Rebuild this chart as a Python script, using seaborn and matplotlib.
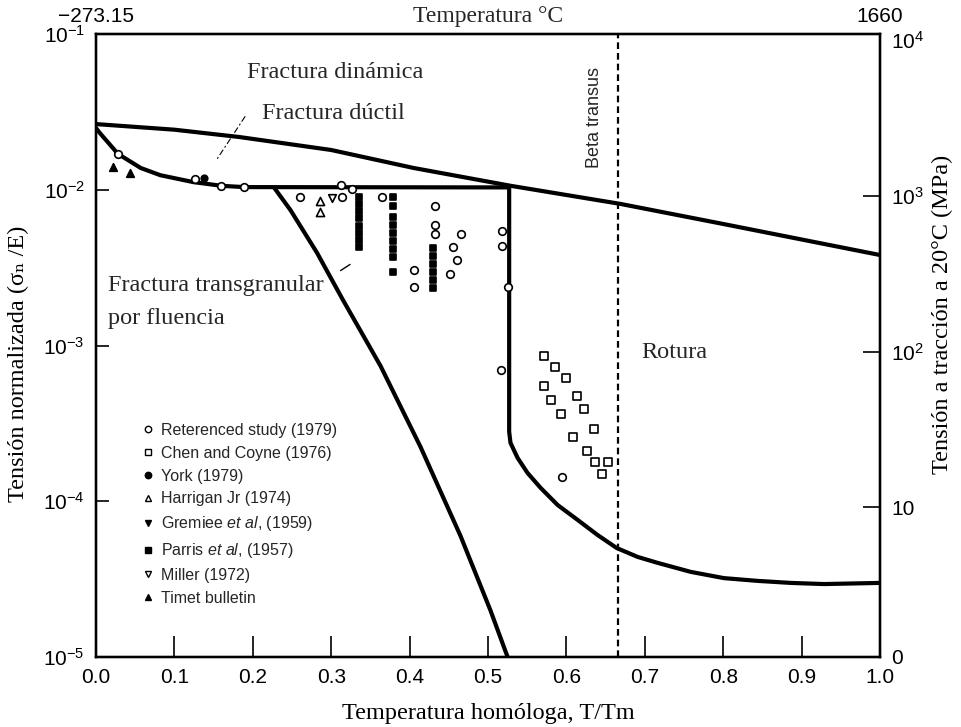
import numpy as np
import matplotlib
matplotlib.use("Agg")
import matplotlib.pyplot as plt
import seaborn as sns
from matplotlib.lines import Line2D
from matplotlib.ticker import NullLocator, FixedLocator

# ---------------------------------------------------------------- data
# Map boundaries (homologous temperature, normalised stress sigma_n/E)
top_x = [0.0, 0.1, 0.183, 0.3, 0.405, 0.529, 0.669, 0.8, 1.0]
top_y = [2.64e-2, 2.43e-2, 2.18e-2, 1.80e-2, 1.38e-2, 1.06e-2, 8.11e-3, 6.03e-3, 3.81e-3]

duct_x = [0.0, 0.005, 0.028, 0.057, 0.082, 0.124, 0.160, 0.189, 0.527, 0.527,
          0.5287, 0.5377, 0.5504, 0.5670, 0.5888, 0.6143, 0.6398, 0.6641,
          0.6909, 0.7165, 0.7586, 0.8008, 0.8442, 0.8863, 0.9285, 1.0]
duct_y = [2.49e-2, 2.31e-2, 1.70e-2, 1.38e-2, 1.24e-2, 1.12e-2, 1.06e-2, 1.04e-2,
          1.035e-2, 2.79e-4, 2.37e-4, 1.90e-4, 1.52e-4, 1.22e-4, 9.46e-5, 7.59e-5,
          6.07e-5, 5.01e-5, 4.39e-5, 4.02e-5, 3.52e-5, 3.21e-5, 3.08e-5, 2.99e-5,
          2.94e-5, 2.99e-5]

creep_x = [0.227, 0.248, 0.282, 0.315, 0.363, 0.414, 0.465, 0.503, 0.525]
creep_y = [1.035e-2, 7.41e-3, 3.93e-3, 1.96e-3, 7.38e-4, 2.23e-4, 5.98e-5, 2.00e-5, 1.0e-5]

beta_transus = 0.666

# Experimental points
ref_x = [0.028, 0.126, 0.160, 0.189, 0.260, 0.312, 0.327, 0.314, 0.365, 0.433,
         0.433, 0.433, 0.465, 0.455, 0.460, 0.451, 0.518, 0.518, 0.406, 0.406,
         0.526, 0.516, 0.594]
ref_y = [1.70e-2, 1.17e-2, 1.06e-2, 1.04e-2, 8.97e-3, 1.07e-2, 1.01e-2, 8.97e-3,
         8.97e-3, 7.87e-3, 5.94e-3, 5.20e-3, 5.20e-3, 4.29e-3, 3.54e-3, 2.88e-3,
         5.43e-3, 4.36e-3, 3.05e-3, 2.38e-3, 2.38e-3, 6.97e-4, 1.43e-4]

chen_x = [0.571, 0.586, 0.600, 0.571, 0.580, 0.614, 0.593, 0.623, 0.635, 0.609,
          0.626, 0.636, 0.653, 0.646]
chen_y = [8.57e-4, 7.28e-4, 6.18e-4, 5.50e-4, 4.47e-4, 4.74e-4, 3.63e-4, 3.91e-4,
          2.91e-4, 2.59e-4, 2.10e-4, 1.79e-4, 1.79e-4, 1.50e-4]

york_x = [0.138]
york_y = [1.19e-2]

harrigan_x = [0.286, 0.286]
harrigan_y = [8.47e-3, 7.19e-3]

gremiee_x = []
gremiee_y = []

parris_x = [0.336] * 8 + [0.379] * 9 + [0.430] * 6
parris_y = [8.98e-3, 8.10e-3, 7.30e-3, 6.59e-3, 5.85e-3, 5.28e-3, 4.76e-3, 4.29e-3,
            8.98e-3, 7.86e-3, 6.68e-3, 5.94e-3, 5.28e-3, 4.69e-3, 4.16e-3, 3.70e-3, 2.96e-3,
            4.23e-3, 3.75e-3, 3.34e-3, 2.96e-3, 2.63e-3, 2.34e-3]

miller_x = [0.301]
miller_y = [8.85e-3]

timet_x = [0.022, 0.043]
timet_y = [1.41e-2, 1.28e-2]

x_ticks = [0.0, 0.1, 0.2, 0.3, 0.4, 0.5, 0.6, 0.7, 0.8, 0.9, 1.0]
left_ticks = [1e-1, 1e-2, 1e-3, 1e-4, 1e-5]
left_labels = [r"$10^{-1}$", r"$10^{-2}$", r"$10^{-3}$", r"$10^{-4}$", r"$10^{-5}$"]
right_ticks = [10 ** 0.04, 10, 100, 1000, 10000]
right_labels = ["0", "10", r"$10^2$", r"$10^3$", r"$10^4$"]
top_labels = ["\u2212273.15", "1660"]

# ---------------------------------------------------------------- style
sns.set_theme(style="ticks")
plt.rcParams["font.family"] = ["Liberation Sans", "DejaVu Sans"]
plt.rcParams["mathtext.fontset"] = "custom"
plt.rcParams["mathtext.rm"] = "Liberation Sans"
plt.rcParams["mathtext.it"] = "Liberation Sans:italic"
plt.rcParams["mathtext.bf"] = "Liberation Sans:bold"
SERIF = ["Liberation Serif", "DejaVu Serif"]

fig = plt.figure(figsize=(9.62, 7.27), dpi=100)
fig.patch.set_facecolor("white")
ax = fig.add_axes([96 / 962, 1 - 657 / 727, 784 / 962, 623 / 727])
ax.set_facecolor("white")
ax.set_xlim(0, 1)
ax.set_yscale("log")
ax.set_ylim(1e-5, 1e-1)

# boundaries
for bx, by in [(top_x, top_y), (duct_x, duct_y), (creep_x, creep_y)]:
    sns.lineplot(x=bx, y=by, ax=ax, sort=False, estimator=None,
                 color="black", linewidth=3.0, zorder=3)
ax.axvline(beta_transus, color="black", linewidth=1.6, linestyle=(0, (3.0, 1.8)), zorder=2)

# leader lines for the region names
ax.annotate("", xy=(0.152, 1.51e-2), xytext=(0.192, 3.05e-2),
            arrowprops=dict(arrowstyle="-", color="black", lw=0.8,
                            linestyle=(0, (5, 3, 1, 3))))
ax.annotate("", xy=(0.309, 2.96e-3), xytext=(0.327, 3.39e-3),
            arrowprops=dict(arrowstyle="-", color="black", lw=1.0))


def points(x, y, marker, filled, size):
    if len(x) == 0:
        return
    sns.scatterplot(x=x, y=y, ax=ax, marker=marker, s=size,
                    facecolor="black" if filled else "white",
                    edgecolor="black", linewidth=1.2, zorder=5, legend=False)


points(ref_x, ref_y, "o", False, 30)
points(chen_x, chen_y, "s", False, 34)
points(york_x, york_y, "o", True, 22)
points(harrigan_x, harrigan_y, "^", False, 34)
points(gremiee_x, gremiee_y, "v", True, 30)
points(parris_x, parris_y, "s", True, 22)
points(miller_x, miller_y, "v", False, 30)
points(timet_x, timet_y, "^", True, 30)

# region names
ax.text(0.193, 5.7e-2, "Fractura dinámica", family=SERIF, fontsize=17.5, va="center")
ax.text(0.212, 3.11e-2, "Fractura dúctil", family=SERIF, fontsize=17.5, va="center")
ax.text(0.0153, 2.44e-3, "Fractura transgranular", family=SERIF, fontsize=17.5, va="center")
ax.text(0.0153, 1.50e-3, "por fluencia", family=SERIF, fontsize=17.5, va="center")
ax.text(0.695, 9.08e-4, "Rotura", family=SERIF, fontsize=17.5, va="center")
ax.text(0.636, 2.89e-2, "Beta transus", fontsize=13, rotation=90,
        ha="center", va="center")

# legend
legend_specs = [
    ("Reterenced study (1979)", "o", False),
    ("Chen and Coyne (1976)", "s", False),
    ("York (1979)", "o", True),
    ("Harrigan Jr (1974)", "^", False),
    (r"Gremiee $\mathit{et\ al}$, (1959)", "v", True),
    (r"Parris $\mathit{et\ al}$, (1957)", "s", True),
    ("Miller (1972)", "v", False),
    ("Timet bulletin", "^", True),
]
handles = [Line2D([], [], linestyle="none", marker=m, markersize=4.6,
                  markerfacecolor="black" if f else "white",
                  markeredgecolor="black", markeredgewidth=1.0, label=lab)
           for lab, m, f in legend_specs]
leg = ax.legend(handles=handles, loc="upper left", frameon=False,
                bbox_to_anchor=(141 / 962, 1 - 423 / 727), bbox_transform=fig.transFigure,
                fontsize=11.5, borderpad=0, borderaxespad=0, handlelength=0.85,
                handletextpad=0.4, labelspacing=0.49)

# bottom / left axes
ax.set_xticks(x_ticks)
ax.set_xticklabels([f"{v:.1f}" for v in x_ticks])
ax.yaxis.set_major_locator(FixedLocator(left_ticks))
ax.yaxis.set_minor_locator(NullLocator())
ax.set_yticklabels(left_labels)
ax.tick_params(axis="x", direction="in", length=15, width=1.2, labelsize=15,
               pad=8, colors="black")
ax.tick_params(axis="y", which="major", direction="in", length=9, width=1.2,
               labelsize=15, pad=8, colors="black")
ax.set_xlabel("Temperatura homóloga, T/Tm", family=SERIF, fontsize=17.5, color="black")
ax.xaxis.set_label_coords(0.5, -0.074)
ax.set_ylabel("Tensión normalizada (σ\u2099 /E)", family=SERIF, fontsize=17.5, color="black")
ax.yaxis.set_label_coords(-0.085, 0.47)

# right axis: tensile strength at 20 C
ax2 = ax.twinx()
ax2.set_yscale("log")
ax2.set_ylim(10 ** 0.04, 10 ** 4.04)
ax2.yaxis.set_major_locator(FixedLocator(right_ticks))
ax2.yaxis.set_minor_locator(NullLocator())
ax2.set_yticklabels(right_labels)
ax2.tick_params(axis="y", which="major", direction="in", length=12, width=1.2,
                labelsize=15, pad=8, colors="black")
for i, t in enumerate(ax2.yaxis.get_major_ticks()):
    if i in (0, len(right_ticks) - 1):
        t.tick1line.set_visible(False)
        t.tick2line.set_visible(False)
ax2.set_ylabel("Tensión a tracción a 20°C (MPa)", family=SERIF, fontsize=17.5,
               color="black")
ax2.yaxis.set_label_coords(1.066, 0.55)

# top axis: absolute temperature
ax3 = ax.twiny()
ax3.set_xlim(0, 1)
ax3.set_xticks([0, 1])
ax3.set_xticklabels(top_labels)
ax3.tick_params(axis="x", length=0, labelsize=15, pad=6, colors="black")
ax.text(0.5, 1.028, "Temperatura °C", transform=ax.transAxes, family=SERIF,
        fontsize=17, ha="center", va="center")

for a in (ax, ax2, ax3):
    for sp in a.spines.values():
        sp.set_color("black")
        sp.set_linewidth(1.6)
        sp.set_visible(True)

fig.savefig("out.png", dpi=100, facecolor="white")
